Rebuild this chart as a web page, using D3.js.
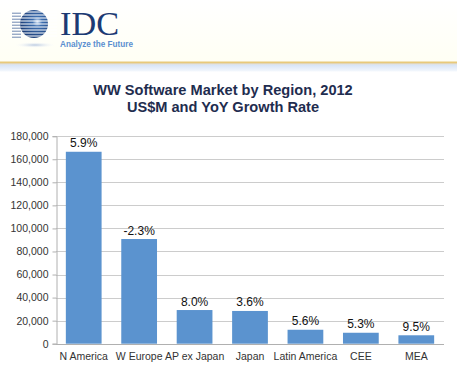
<!DOCTYPE html>
<html><head><meta charset="utf-8">
<script src="https://cdn.jsdelivr.net/npm/d3@7"></script>
<style>body{margin:0;background:#fff}svg{display:block}</style>
</head><body>
<script>
const categories = ["N America","W Europe","AP ex Japan","Japan","Latin America","CEE","MEA"];
const values = [166500, 90800, 29200, 28400, 12100, 9500, 7300];
const growth = ["5.9%","-2.3%","8.0%","3.6%","5.6%","5.3%","9.5%"];
const yTicks = [0,20000,40000,60000,80000,100000,120000,140000,160000,180000];
const titleLines = ["WW Software Market by Region, 2012","US$M and YoY Growth Rate"];

(function(){
const W=457,H=367;
const svg=d3.select("body").append("svg").attr("width",W).attr("height",H);
const defs=svg.append("defs");
const hg=defs.append("linearGradient").attr("id","hdr").attr("x1",0).attr("y1",0).attr("x2",0).attr("y2",1);
hg.append("stop").attr("offset",0).attr("stop-color","#ffffff");
hg.append("stop").attr("offset",1).attr("stop-color","#fffff4");
svg.append("rect").attr("x",0).attr("y",0).attr("width",W).attr("height",62).attr("fill","url(#hdr)");
svg.append("rect").attr("x",0).attr("y",61.5).attr("width",W).attr("height",2).attr("fill","#e8c97a");
svg.append("rect").attr("x",0).attr("y",63.5).attr("width",W).attr("height",1).attr("fill","#cfc6b0");
const bg=defs.append("linearGradient").attr("id","band").attr("x1",0).attr("y1",0).attr("x2",0).attr("y2",1);
bg.append("stop").attr("offset",0).attr("stop-color","#d6e3f5");
bg.append("stop").attr("offset",1).attr("stop-color","#f4f8fd");
svg.append("rect").attr("x",0).attr("y",64.5).attr("width",W).attr("height",7).attr("fill","url(#band)");

const lg=svg.append("g");
const gg=defs.append("radialGradient").attr("id","globe").attr("cx","0.62").attr("cy","0.42").attr("r","0.7");
gg.append("stop").attr("offset",0).attr("stop-color","#d8e6f7");
gg.append("stop").attr("offset",0.25).attr("stop-color","#3d6fb0");
gg.append("stop").attr("offset",1).attr("stop-color","#15336b");
const sh=defs.append("radialGradient").attr("id","shadow");
sh.append("stop").attr("offset",0).attr("stop-color","#b9c9e0");
sh.append("stop").attr("offset",1).attr("stop-color","#ffffff").attr("stop-opacity",0);
lg.append("ellipse").attr("cx",35).attr("cy",45).attr("rx",21).attr("ry",3).attr("fill","url(#shadow)");
lg.append("circle").attr("cx",34).attr("cy",24).attr("r",14).attr("fill","url(#globe)");
for(let i=0;i<9;i++){
  const yy=12+i*3;
  lg.append("line").attr("x1",12).attr("x2",57).attr("y1",yy).attr("y2",yy)
    .attr("stroke","#ffffff").attr("stroke-width",1.1);
  lg.append("line").attr("x1",12).attr("x2",21).attr("y1",yy+1.2).attr("y2",yy+1.2)
    .attr("stroke","#5d79a8").attr("stroke-width",0.9);
}
lg.append("text").attr("x",60).attr("y",34.5).attr("font-family","Liberation Serif, DejaVu Serif, serif")
  .attr("font-size",33).attr("fill","#1c3a73").attr("textLength",59).attr("lengthAdjust","spacingAndGlyphs").text("IDC");
lg.append("text").attr("x",60).attr("y",46.5).attr("font-family","Liberation Sans, Arial, sans-serif")
  .attr("font-size",9).attr("font-weight","bold").attr("fill","#5b8fd0").attr("textLength",73).attr("lengthAdjust","spacingAndGlyphs").text("Analyze the Future");

svg.selectAll("text.title").data(titleLines).enter().append("text").attr("class","title")
  .attr("x",223).attr("y",(d,i)=>94.5+i*17.5).attr("text-anchor","middle")
  .attr("font-family","Liberation Sans, Arial, sans-serif").attr("font-size",14.6).attr("font-weight","bold")
  .attr("fill","#1f2d4f").text(d=>d);

const pL=56,pR=444,pT=136.2,pB=343.7;
const x=d3.scaleBand().domain(categories).range([pL,pR]).paddingInner(0.355).paddingOuter(0.1775);
const y=d3.scaleLinear().domain([0,180000]).range([pB,pT]);

const grid=svg.append("g");
grid.selectAll("line").data(yTicks.filter(d=>d>0)).enter().append("line")
  .attr("x1",pL).attr("x2",pR).attr("y1",d=>Math.round(y(d))+0.5).attr("y2",d=>Math.round(y(d))+0.5)
  .attr("stroke","#cccccc").attr("stroke-width",1);

svg.selectAll("rect.bar").data(values).enter().append("rect").attr("class","bar")
  .attr("x",(d,i)=>x(categories[i])).attr("width",x.bandwidth())
  .attr("y",d=>y(d)).attr("height",d=>pB-y(d)).attr("fill","#5b93cf");

const yAxis=svg.append("g").attr("transform",`translate(${pL+0.5},0)`)
  .call(d3.axisLeft(y).tickValues(yTicks).tickSize(4).tickFormat(d3.format(",")));
yAxis.select(".domain").attr("stroke","#b0b0b0");
yAxis.selectAll(".tick line").attr("stroke","#b0b0b0");
yAxis.selectAll("text").attr("font-family","Liberation Sans, Arial, sans-serif").attr("font-size",10.5).attr("fill","#333").attr("dx",-1);

const xAxis=svg.append("g").attr("transform",`translate(0,${Math.round(pB)+0.5})`)
  .call(d3.axisBottom(x).tickSize(0).tickPadding(8));
xAxis.select(".domain").attr("stroke","#b0b0b0").attr("d",`M${pL},0H${pR}`);
xAxis.selectAll("text").attr("font-family","Liberation Sans, Arial, sans-serif").attr("font-size",10.5).attr("fill","#333");

svg.selectAll("text.lbl").data(values).enter().append("text").attr("class","lbl")
  .attr("x",(d,i)=>x(categories[i])+x.bandwidth()/2).attr("y",d=>y(d)-4.5)
  .attr("text-anchor","middle").attr("font-family","Liberation Sans, Arial, sans-serif")
  .attr("font-size",12).attr("fill","#111").text((d,i)=>growth[i]);
})();
</script>
</body></html>
